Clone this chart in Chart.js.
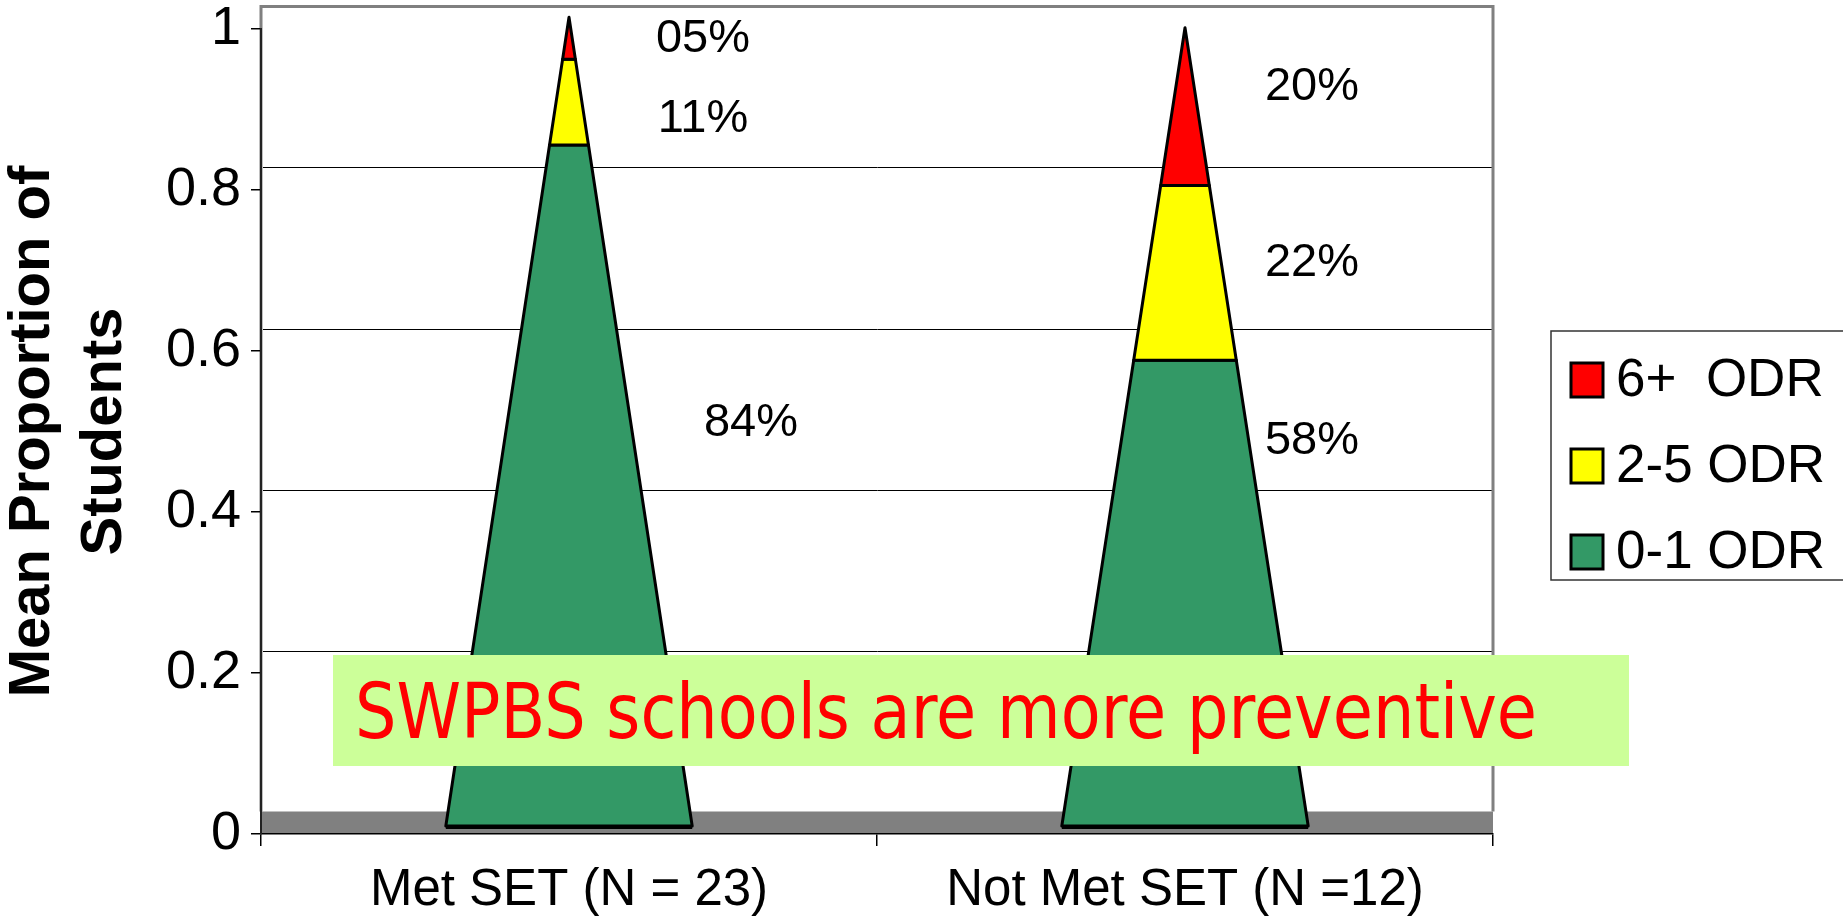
<!DOCTYPE html>
<html>
<head>
<meta charset="utf-8">
<script src="https://cdn.jsdelivr.net/npm/chart.js@4.4.1/dist/chart.umd.min.js"></script>
<style>
  html, body { margin: 0; padding: 0; background: #fff; }
  #wrap { width: 1843px; height: 922px; position: relative; }
</style>
</head>
<body>
<div id="wrap"><canvas id="c" width="1843" height="922"></canvas></div>
<script>
// ---------------- data ----------------
const categories = ['Met SET (N = 23)', 'Not Met SET (N =12)'];
const seriesNames = ['0-1 ODR', '2-5 ODR', '6+  ODR'];
const odr01 = [0.842, 0.576];     // 0-1 ODR
const odr25 = [0.106, 0.216];     // 2-5 ODR
const odr6plus = [0.052, 0.195];  // 6+ ODR
const yTicks = [0, 0.2, 0.4, 0.6, 0.8, 1];
const yTitle = ['Mean Proportion of', 'Students'];
const noteText = 'SWPBS schools are more preventive';

// ---------------- styles ----------------
const FONT = '"Liberation Sans", Arial, Helvetica, sans-serif';
const COLORS = ['#339966', '#FFFF00', '#FF0000'];

const fmtPct = v => String(Math.round(v * 100)).padStart(2, '0') + '%';

// back wall, gridlines and floor (3D look)
const wallPlugin = {
  id: 'wall',
  beforeDraw(chart, args, o) {
    const { ctx, chartArea: ca, scales: { y } } = chart;
    ctx.save();
    ctx.fillStyle = '#fff';
    ctx.fillRect(0, 0, chart.width, chart.height);
    const off = o.backOffset;
    const top = y.getPixelForValue(y.max) + off;
    const floorTop = y.getPixelForValue(0) + off;
    ctx.strokeStyle = '#000';
    ctx.lineWidth = 1;
    y.ticks.forEach(t => {
      if (t.value > 0 && t.value < y.max) {
        const py = Math.round(y.getPixelForValue(t.value) + off) + 0.5;
        ctx.beginPath();
        ctx.moveTo(ca.left + 2, py);
        ctx.lineTo(ca.right - 1, py);
        ctx.stroke();
      }
    });
    ctx.fillStyle = '#808080';
    ctx.fillRect(ca.left, floorTop, ca.right - ca.left, ca.bottom - floorTop - 0.5);
    ctx.strokeStyle = '#808080';
    ctx.lineWidth = 3;
    ctx.beginPath();
    ctx.moveTo(ca.left, floorTop);
    ctx.lineTo(ca.left, top);
    ctx.lineTo(ca.right, top);
    ctx.lineTo(ca.right, floorTop);
    ctx.stroke();
    ctx.restore();
  }
};

// stacked bars drawn as pyramids
const pyramidPlugin = {
  id: 'pyramids',
  beforeDatasetsDraw(chart, args, o) {
    const ctx = chart.ctx, y = chart.scales.y;
    const ds = chart.data.datasets;
    const metas = ds.map((d, i) => chart.getDatasetMeta(i));
    for (let j = 0; j < chart.data.labels.length; j++) {
      const vals = ds.map(d => d.data[j]);
      const total = vals.reduce((a, b) => a + b, 0);
      const bar = metas[0].data[j];
      const cx = bar.x, hw = bar.width / 2;
      const P = v => {
        const f = v / total;
        return { y: y.getPixelForValue(v) + o.baseOffset + o.tipOffset * f, h: hw * (1 - f) };
      };
      ctx.save();
      ctx.lineJoin = 'round';
      ctx.strokeStyle = '#000';
      let cum = 0;
      ds.forEach((d, i) => {
        const a = P(cum), b = P(cum + vals[i]);
        ctx.beginPath();
        ctx.moveTo(cx - a.h, a.y);
        ctx.lineTo(cx + a.h, a.y);
        ctx.lineTo(cx + b.h, b.y);
        ctx.lineTo(cx - b.h, b.y);
        ctx.closePath();
        ctx.fillStyle = d.backgroundColor;
        ctx.fill();
        ctx.lineWidth = 3;
        ctx.stroke();
        cum += vals[i];
      });
      const b0 = P(0);
      ctx.lineWidth = 4;
      ctx.beginPath();
      ctx.moveTo(cx - b0.h, b0.y + 1);
      ctx.lineTo(cx + b0.h, b0.y + 1);
      ctx.stroke();
      ctx.restore();
    }
    return false;
  }
};

// percentage labels
const labelPlugin = {
  id: 'pctLabels',
  afterDraw(chart, args, o) {
    const ctx = chart.ctx, y = chart.scales.y;
    ctx.save();
    ctx.font = o.size + 'px ' + FONT;
    ctx.fillStyle = '#000';
    ctx.textAlign = 'center';
    ctx.textBaseline = 'middle';
    chart.data.datasets.forEach((d, i) => {
      const meta = chart.getDatasetMeta(i);
      d.data.forEach((v, j) => {
        const bar = meta.data[j];
        ctx.fillText(fmtPct(v), bar.x + o.dx[j][i], y.getPixelForValue(o.at[j][i]));
      });
    });
    ctx.restore();
  }
};

// text box annotation
const notePlugin = {
  id: 'note',
  afterDraw(chart, args, o) {
    const ctx = chart.ctx;
    ctx.save();
    ctx.fillStyle = o.bg;
    ctx.fillRect(o.box[0], o.box[1], o.box[2], o.box[3]);
    ctx.font = o.size + 'px "DejaVu Sans", sans-serif';
    ctx.fillStyle = o.color;
    ctx.textBaseline = 'alphabetic';
    ctx.textAlign = 'left';
    const w = ctx.measureText(o.text).width;
    ctx.translate(o.textX, o.baseline);
    ctx.scale(o.textWidth / w, 1);
    ctx.fillText(o.text, 0, 0);
    ctx.restore();
  }
};

// legend box
const legendPlugin = {
  id: 'boxLegend',
  afterDraw(chart, args, o) {
    const ctx = chart.ctx;
    ctx.save();
    ctx.strokeStyle = '#333';
    ctx.lineWidth = 1.5;
    ctx.strokeRect(o.box[0], o.box[1], o.box[2], o.box[3]);
    ctx.font = o.size + 'px ' + FONT;
    ctx.textBaseline = 'middle';
    ctx.textAlign = 'left';
    const items = chart.data.datasets.slice().reverse();
    items.forEach((d, k) => {
      const cy = o.firstY + k * o.step;
      ctx.fillStyle = d.backgroundColor;
      ctx.fillRect(o.swX, cy - o.swH / 2, o.swW, o.swH);
      ctx.strokeStyle = '#000';
      ctx.lineWidth = 3;
      ctx.strokeRect(o.swX, cy - o.swH / 2, o.swW, o.swH);
      ctx.fillStyle = '#000';
      ctx.fillText(d.label, o.textX, cy + 1);
    });
    ctx.restore();
  }
};

const datasets = [odr01, odr25, odr6plus].map((arr, i) => ({
  label: seriesNames[i],
  data: arr,
  backgroundColor: COLORS[i],
  borderColor: '#000',
  borderWidth: 3,
  categoryPercentage: 0.4,
  barPercentage: 1.0
}));

new Chart(document.getElementById('c'), {
  type: 'bar',
  data: { labels: categories, datasets },
  plugins: [wallPlugin, pyramidPlugin, labelPlugin, notePlugin, legendPlugin],
  options: {
    responsive: false,
    animation: false,
    devicePixelRatio: 1,
    layout: { padding: { left: 0, right: 350, top: 29, bottom: 0 } },
    plugins: {
      legend: { display: false },
      tooltip: { enabled: false },
      wall: { backOffset: -22.5 },
      pyramids: { baseOffset: -8, tipOffset: -3.7 },
      pctLabels: {
        size: 47,
        dx: [[182, 134, 134], [127, 127, 127]],
        at: [[0.511, 0.888, 0.988], [0.488, 0.709, 0.928]]
      },
      note: {
        text: noteText, bg: '#CCFF99', color: '#FF0000',
        box: [333, 655, 1296, 111], size: 76,
        textX: 355, baseline: 738, textWidth: 1182
      },
      boxLegend: {
        box: [1551, 331, 300, 249], size: 53,
        swX: 1571, swW: 32, swH: 34, textX: 1616, firstY: 380, step: 86
      }
    },
    scales: {
      x: {
        stacked: true,
        grid: { display: true, drawOnChartArea: false, drawTicks: true, tickLength: 12, color: '#000', lineWidth: 1.5 },
        border: { display: true, color: '#000', width: 1.5 },
        ticks: { font: { family: FONT, size: 51 }, color: '#000', padding: 14, maxRotation: 0, autoSkip: false },
        afterFit(s) { s.height = 88; s.paddingLeft = 0; s.paddingRight = 0; }
      },
      y: {
        stacked: true,
        min: 0, max: 1,
        afterBuildTicks(s) { s.ticks = yTicks.map(v => ({ value: v })); },
        grid: { drawOnChartArea: false, drawTicks: true, tickLength: 10, color: '#000', lineWidth: 1.5 },
        border: { display: true, color: '#222', width: 2 },
        ticks: { font: { family: FONT, size: 54 }, color: '#000', padding: 10, callback: v => String(v) },
        title: {
          display: true, text: yTitle, color: '#000',
          font: { family: FONT, size: 58, weight: 'bold', lineHeight: 1.24 },
          padding: { top: -3, bottom: 0 }
        },
        afterFit(s) { s.width = 261; s.paddingTop = 0; s.paddingBottom = 0; }
      }
    }
  }
});
</script>
</body>
</html>
